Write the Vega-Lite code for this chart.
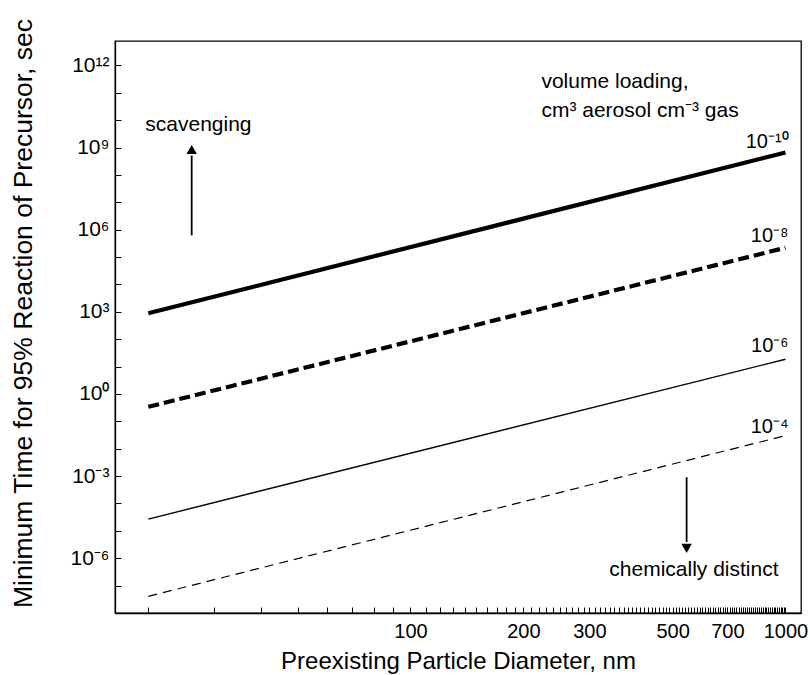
{
  "$schema": "https://vega.github.io/schema/vega-lite/v6.json",
  "width": 686,
  "height": 572,
  "autosize": "none",
  "padding": {"left": 115, "top": 41, "right": 9, "bottom": 62},
  "background": "white",
  "config": {
    "font": "Liberation Sans",
    "view": {"stroke": "black", "strokeWidth": 1.3},
    "axis": {"domainColor": "black", "tickColor": "black", "labelColor": "black", "titleColor": "black", "domainWidth": 1.3, "tickWidth": 1, "grid": false, "labelFont": "Liberation Sans", "titleFont": "Liberation Sans", "titleFontWeight": "normal"}
  },
  "datasets": {
    "lines": [
      {"d": 20, "t": 891, "s": "1e-10"},
      {"d": 1000, "t": 660000000, "s": "1e-10"},
      {"d": 20, "t": 0.339, "s": "1e-8"},
      {"d": 1000, "t": 219000, "s": "1e-8"},
      {"d": 20, "t": 0.0000269, "s": "1e-6"},
      {"d": 1000, "t": 18.6, "s": "1e-6"},
      {"d": 20, "t": 0.0000000407, "s": "1e-4"},
      {"d": 1000, "t": 0.0302, "s": "1e-4"}
    ],
    "notesCenter": [
      {"x": 27.2, "y": 6400000000, "txt": "scavenging"},
      {"x": 570, "y": 0.00000036, "txt": "chemically distinct"}
    ],
    "notesLeft": [
      {"x": 223.5, "y": 145000000000, "txt": "volume loading,"},
      {"x": 223.5, "y": 12600000000, "txt": "cm³ aerosol cm⁻³ gas"}
    ],
    "labels": [
      {"x": 1019, "y": 1000000000, "txt": "10⁻¹⁰"},
      {"x": 1019, "y": 370000, "txt": "10⁻⁸"},
      {"x": 1019, "y": 33, "txt": "10⁻⁶"},
      {"x": 1019, "y": 0.037, "txt": "10⁻⁴"}
    ],
    "shafts": [
      {"x": 26.1, "y": 620000, "y2": 510000000},
      {"x": 545, "y": 0.00091, "y2": 0.0000039}
    ],
    "heads": [
      {"x": 26.1, "y": 850000000, "shape": "triangle-up"},
      {"x": 545, "y": 0.0000023, "shape": "triangle-down"}
    ]
  },
  "layer": [
    {
      "data": {"name": "lines"},
      "transform": [{"filter": "datum.s == '1e-10'"}],
      "mark": {"type": "line", "color": "black", "strokeWidth": 4.2},
      "encoding": {
        "x": {"field": "d", "type": "quantitative", "scale": {"type": "log", "domain": [16.3, 1100], "nice": false},
          "axis": {"title": "Preexisting Particle Diameter, nm", "titleFontSize": 24, "titlePadding": 8, "labelFontSize": 20, "tickSize": -6, "labelPadding": 14, "labelOverlap": false, "labelFlush": false, "labelBound": false,
            "values": [20,30,40,50,60,70,80,90,100,110,120,130,140,150,160,170,180,190,200,210,220,230,240,250,260,270,280,290,300,310,320,330,340,350,360,370,380,390,400,410,420,430,440,450,460,470,480,490,500,510,520,530,540,550,560,570,580,590,600,610,620,630,640,650,660,670,680,690,700,710,720,730,740,750,760,770,780,790,800,810,820,830,840,850,860,870,880,890,900,910,920,930,940,950,960,970,980,990,1000],
            "labelExpr": "indexof([100,200,300,500,700,1000], datum.value) >= 0 ? format(datum.value, 'd') : ''"}},
        "y": {"field": "t", "type": "quantitative", "scale": {"type": "log", "domain": [1e-8, 7.8e12], "nice": false},
          "axis": {"title": "Minimum Time for 95% Reaction of Precursor, sec", "titleFontSize": 26.5, "titlePadding": 32, "titleY": 272, "labelFontSize": 21, "tickSize": -6, "labelPadding": 12, "labelOverlap": false, "labelFlush": false, "labelBound": false,
            "values": [1e-8,1e-7,1e-6,1e-5,1e-4,1e-3,1e-2,1e-1,1,10,100,1000,1e4,1e5,1e6,1e7,1e8,1e9,1e10,1e11,1e12],
            "labelExpr": "round(log(datum.value)/LN10) == 12 ? '10¹²' : round(log(datum.value)/LN10) == 9 ? '10⁹' : round(log(datum.value)/LN10) == 6 ? '10⁶' : round(log(datum.value)/LN10) == 3 ? '10³' : round(log(datum.value)/LN10) == 0 ? '10⁰' : round(log(datum.value)/LN10) == -3 ? '10⁻³' : round(log(datum.value)/LN10) == -6 ? '10⁻⁶' : ''"}}
      }
    },
    {
      "data": {"name": "lines"},
      "transform": [{"filter": "datum.s == '1e-8'"}],
      "mark": {"type": "line", "color": "black", "strokeWidth": 4.2, "strokeDash": [11, 5]},
      "encoding": {"x": {"field": "d", "type": "quantitative"}, "y": {"field": "t", "type": "quantitative"}}
    },
    {
      "data": {"name": "lines"},
      "transform": [{"filter": "datum.s == '1e-6'"}],
      "mark": {"type": "line", "color": "black", "strokeWidth": 1.4},
      "encoding": {"x": {"field": "d", "type": "quantitative"}, "y": {"field": "t", "type": "quantitative"}}
    },
    {
      "data": {"name": "lines"},
      "transform": [{"filter": "datum.s == '1e-4'"}],
      "mark": {"type": "line", "color": "black", "strokeWidth": 1.2, "strokeDash": [9, 6]},
      "encoding": {"x": {"field": "d", "type": "quantitative"}, "y": {"field": "t", "type": "quantitative"}}
    },
    {
      "data": {"name": "notesCenter"},
      "mark": {"type": "text", "color": "black", "fontSize": 21, "align": "center", "baseline": "middle"},
      "encoding": {
        "x": {"field": "x", "type": "quantitative"},
        "y": {"field": "y", "type": "quantitative"},
        "text": {"field": "txt"}
      }
    },
    {
      "data": {"name": "notesLeft"},
      "mark": {"type": "text", "color": "black", "fontSize": 21, "align": "left", "baseline": "alphabetic"},
      "encoding": {
        "x": {"field": "x", "type": "quantitative"},
        "y": {"field": "y", "type": "quantitative"},
        "text": {"field": "txt"}
      }
    },
    {
      "data": {"name": "labels"},
      "mark": {"type": "text", "color": "black", "fontSize": 20, "align": "right", "baseline": "alphabetic"},
      "encoding": {
        "x": {"field": "x", "type": "quantitative"},
        "y": {"field": "y", "type": "quantitative"},
        "text": {"field": "txt"}
      }
    },
    {
      "data": {"name": "shafts"},
      "mark": {"type": "rule", "color": "black", "strokeWidth": 1.8},
      "encoding": {
        "x": {"field": "x", "type": "quantitative"},
        "y": {"field": "y", "type": "quantitative"},
        "y2": {"field": "y2"}
      }
    },
    {
      "data": {"name": "heads"},
      "mark": {"type": "point", "filled": true, "color": "black", "size": 110, "opacity": 1},
      "encoding": {
        "x": {"field": "x", "type": "quantitative"},
        "y": {"field": "y", "type": "quantitative"},
        "shape": {"field": "shape", "type": "nominal", "scale": null}
      }
    }
  ]
}
